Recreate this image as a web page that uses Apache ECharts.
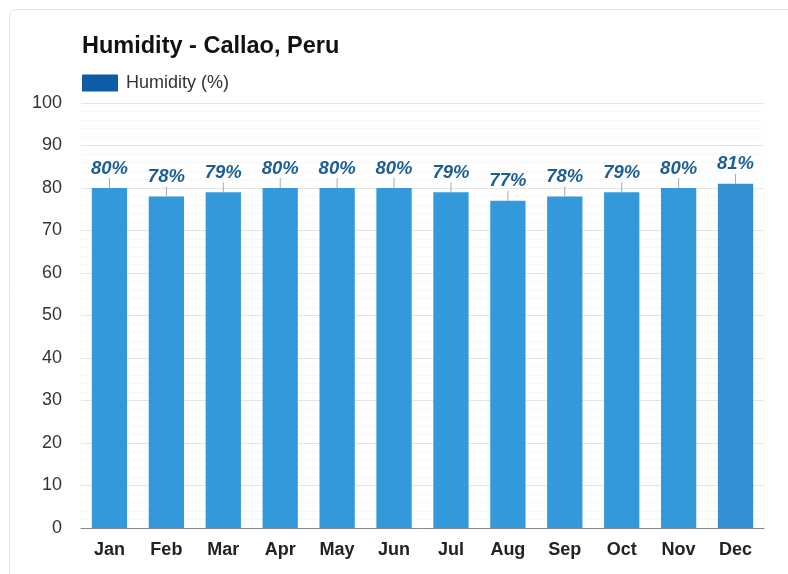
<!DOCTYPE html>
<html><head><meta charset="utf-8">
<script src="https://cdn.jsdelivr.net/npm/echarts@6/dist/echarts.min.js"></script>
<style>html,body{margin:0;padding:0;background:#fff}#c{width:788px;height:574px}</style>
</head><body><div id="c"></div>
<script>
const months = ['Jan','Feb','Mar','Apr','May','Jun','Jul','Aug','Sep','Oct','Nov','Dec'];
const humidity = [80,78,79,80,80,80,79,77,78,79,80,81];
const seriesName = 'Humidity (%)';
const titleText = 'Humidity - Callao, Peru';

const FONT = 'Liberation Sans, Arial, sans-serif';
const chart = echarts.init(document.getElementById('c'), null, {renderer:'canvas'});
const barData = humidity.map((v,i)=>({value:v, itemStyle:{color: i===11 ? '#3391d3' : '#3499db'}}));
chart.setOption({
  animation:false,
  backgroundColor:'#fff',
  graphic:[{type:'rect', shape:{x:9.5,y:9.5,width:800,height:600,r:6}, style:{fill:'none',stroke:'#e3e3e3',lineWidth:1}, z:-1}],
  title:{text:titleText, left:77, top:30, textStyle:{fontFamily:FONT, fontSize:23.5, fontWeight:'bold', color:'#111'}},
  legend:{left:77, top:69, itemWidth:36, itemHeight:17, itemGap:8, icon:'rect',
    data:[{name:seriesName, itemStyle:{color:'#0d5ca6'}}],
    textStyle:{fontFamily:FONT, fontSize:18, color:'#333', padding:[0,0,0,3]}},
  grid:{left:81, right:24, top:103, bottom:46, containLabel:false},
  xAxis:{type:'category', data:months,
    axisLine:{lineStyle:{color:'#888'}}, axisTick:{show:false},
    axisLabel:{fontFamily:FONT, fontSize:18, fontWeight:'bold', color:'#222', margin:13}},
  yAxis:{type:'value', min:0, max:100, interval:10,
    axisLine:{show:false}, axisTick:{show:false},
    axisLabel:{fontFamily:FONT, fontSize:18, color:'#333', margin:19},
    splitLine:{lineStyle:{color:'#e4e4e4'}},
    minorTick:{show:false, splitNumber:5},
    minorSplitLine:{show:true, lineStyle:{color:'#f7f7f7'}}},
  series:[{name:seriesName, type:'bar', data:barData, barWidth:'62%',
    label:{show:true, position:'top', distance:0, formatter:'{c}%',
      fontFamily:FONT, fontSize:18.5, fontWeight:'bold', fontStyle:'italic', color:'#1b5f92'},
    labelLayout:{dy:-10},
    labelLine:{show:true, length2:0, lineStyle:{color:'#aaa', width:1}}
  }]
});
</script></body></html>
